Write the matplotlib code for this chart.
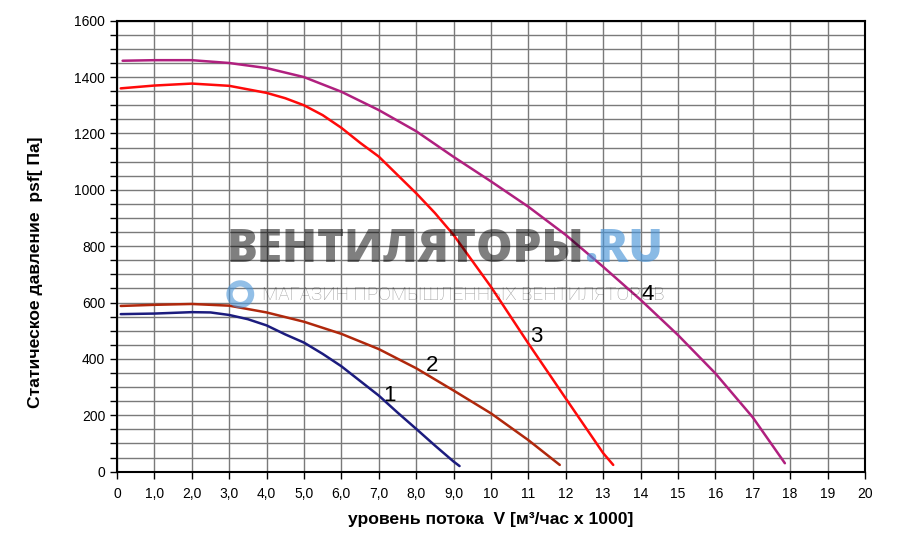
import matplotlib
matplotlib.use('Agg')
import matplotlib.pyplot as plt
from matplotlib.patches import Ellipse
from matplotlib.ticker import MultipleLocator, FixedLocator

plt.rcParams['font.family'] = ['Liberation Sans', 'DejaVu Sans']

# fan curves: flow (x1000 m3/h) vs static pressure (Pa)
v1 = [0.1, 1, 2, 2.5, 3, 3.5, 4, 4.5, 5, 5.5, 6, 6.5, 7, 7.5, 8, 8.5, 9, 9.16]
p1 = [559, 561, 566, 565, 556, 541, 519, 487, 458, 418, 374, 322, 270, 210, 152, 93, 36, 20]

v2 = [0.1, 1, 2, 3, 4, 5, 6, 7, 8, 9, 10, 11, 11.84]
p2 = [588, 592, 595, 589, 565, 532, 489, 435, 367, 288, 207, 112, 24]

v3 = [0.1, 1, 2, 3, 4, 4.5, 5, 5.5, 6, 6.5, 7, 7.5, 8, 8.5, 9, 10, 11, 12, 13, 13.27]
p3 = [1360, 1370, 1377, 1369, 1344, 1325, 1300, 1265, 1220, 1167, 1118, 1053, 988, 918,
      840, 656, 455, 260, 66, 24]

v4 = [0.15, 1, 2, 3, 4, 5, 6, 7, 8, 9, 10, 11, 12, 13, 14, 15, 16, 17, 17.86]
p4 = [1458, 1460, 1460, 1450, 1432, 1400, 1348, 1283, 1208, 1117, 1030, 940, 840,
      727, 610, 485, 349, 193, 30]

curve_names = ['1', '2', '3', '4']
label_x = [7.3, 8.42, 11.2, 14.2]
label_y = [272, 378, 478, 627]

xticks = list(range(0, 21))
xtick_labels = ['0'] + ['%d,0' % i for i in range(1, 10)] + [str(i) for i in range(10, 21)]

colors = ['#1c1c7e', '#b0280c', '#ff0a0a', '#b0207f']

fig = plt.figure(figsize=(9, 5.34), dpi=100)
ax = fig.add_axes([0.13, 0.1167, 0.831, 0.8445])

ax.set_xlim(0, 20)
ax.set_ylim(0, 1600)
ax.xaxis.set_major_locator(FixedLocator(xticks))
ax.set_xticklabels(xtick_labels)
ax.yaxis.set_major_locator(MultipleLocator(200))
ax.yaxis.set_minor_locator(MultipleLocator(50))
ax.grid(True, which='major', axis='x', color='#7a7a7a', linewidth=1.0)
ax.grid(True, which='both', axis='y', color='#7a7a7a', linewidth=1.0)
ax.set_axisbelow(True)
ax.tick_params(axis='both', which='both', direction='out', length=5, width=1,
               labelsize=10, color='black')
ax.tick_params(axis='x', pad=6)
for s in ax.spines.values():
    s.set_linewidth(1.5)
    s.set_color('black')

for v, p, c in zip([v1, v2, v3, v4], [p1, p2, p3, p4], colors):
    ax.plot(v, p, color=c, linewidth=1.8, solid_capstyle='round', solid_joinstyle='round')

for name, lx, ly in zip(curve_names, label_x, label_y):
    ax.text(lx, ly, name, fontsize=16, ha='center', va='center', color='black', zorder=6)

ax.set_xlabel('уровень потока  V [м³/час x 1000]', fontsize=12.6, fontweight='bold', labelpad=8)
ax.set_ylabel('Статическое давление  psf[ Па]', fontsize=12.6, fontweight='bold')
ax.yaxis.set_label_coords(-0.099, 0.443)

# watermark overlay
wm = fig.text(0.252, 0.532, 'ВЕНТИЛЯТОРЫ', fontsize=33, fontweight=800, family='Open Sans',
              color='black', alpha=0.5, ha='left', va='center', zorder=10)
fig.canvas.draw()
bb = wm.get_window_extent()
fig.text(bb.x1 / fig.bbox.width, 0.532, '.RU', fontsize=33, fontweight=800, family='Open Sans',
         color='#4a95d8', alpha=0.65, ha='left', va='center', zorder=10)
fig.text(0.291, 0.448, 'МАГАЗИН ПРОМЫШЛЕННЫХ ВЕНТИЛЯТОРОВ', fontsize=13.6, fontweight='light',
         family='Roboto', color='black', alpha=0.38, ha='left', va='center', zorder=10)
fig.patches.append(Ellipse((0.267, 0.449), 0.024, 0.0405, transform=fig.transFigure,
                           facecolor='none', edgecolor='#4a95d8', linewidth=4.5, alpha=0.6, zorder=10))

fig.savefig('out.png', dpi=100)
